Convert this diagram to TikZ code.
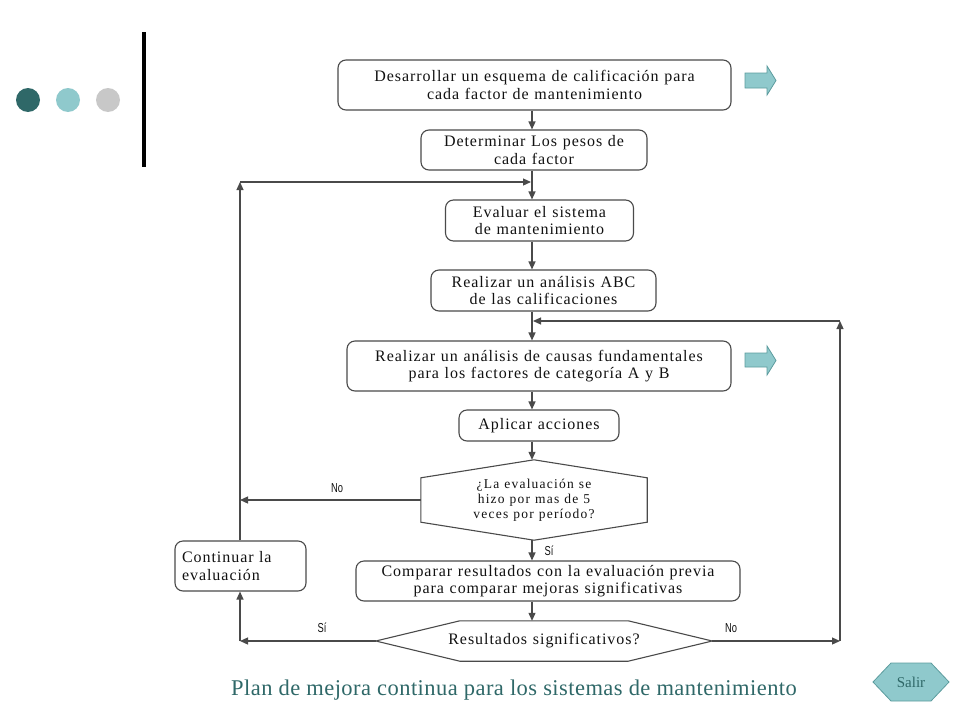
\documentclass[tikz,border=0pt]{standalone}
\usepackage{fontspec}
\usepackage{graphicx}
\setmainfont{Liberation Serif}
\newfontfamily\boxfont[LetterSpace=6,WordSpace=1.15]{Liberation Serif}
\newfontfamily\hexfont[LetterSpace=9,WordSpace=1.1]{Liberation Serif}
\newfontfamily\titlefont[LetterSpace=2]{Liberation Serif}
\newfontfamily\labfont{Liberation Sans}
\usetikzlibrary{arrows.meta,shapes.geometric}
\definecolor{tealdark}{HTML}{2F6868}
\definecolor{teallight}{HTML}{8FC9CC}
\definecolor{dotgray}{HTML}{C8C8C8}
\definecolor{tealborder}{HTML}{5C9C9E}
\definecolor{linegray}{HTML}{4A4A4A}
\definecolor{textdark}{HTML}{111111}
\tikzset{
  boxstyle/.style={draw=linegray, line width=1.1pt, rounded corners=8pt, align=center,
    inner sep=0pt, text=textdark, font=\boxfont\fontsize{16}{17.5}\selectfont},
  hexnode/.style={inner sep=0pt, align=center, text=textdark},
  hexline/.style={draw=linegray, line width=1.1pt},
  arr/.style={draw=linegray, line width=1.2pt, -{Triangle[length=8pt,width=7pt]}},
  lab/.style={inner sep=0pt, text=textdark, font=\labfont\fontsize{13}{13}\selectfont},
  tealarrow/.style={fill=teallight, draw=tealborder, line width=0.8pt},
}
\newcommand{\narrow}[1]{\scalebox{0.72}[1]{#1}}
\begin{document}
\begin{tikzpicture}[x=1pt,y=-1pt]
\useasboundingbox (0,0) rectangle (960,720);
% decoration
\fill[tealdark] (28,100) circle (12);
\fill[teallight] (68,100) circle (12);
\fill[dotgray] (108,100) circle (12);
\fill[black] (142,32) rectangle (146,167);

\coordinate (cx) at (532,0);
% boxes
\node[boxstyle, minimum width=393pt, minimum height=50pt] (b1) at (534.5,85)
  {Desarrollar un esquema de calificación para\\cada factor de mantenimiento};
\node[boxstyle, minimum width=226pt, minimum height=40pt] (b2) at (534,150)
  {Determinar Los pesos de\\cada factor};
\node[boxstyle, minimum width=188pt, minimum height=41pt] (b3) at (539.5,220.5)
  {Evaluar el sistema\\de mantenimiento};
\node[boxstyle, minimum width=225pt, minimum height=41pt] (b4) at (543.5,290.5)
  {Realizar un análisis ABC\\de las calificaciones};
\node[boxstyle, minimum width=384pt, minimum height=50pt] (b5) at (539,366)
  {Realizar un análisis de causas fundamentales\\para los factores de categoría A y B};
\node[boxstyle, minimum width=160pt, minimum height=31pt] (b6) at (539,425.5)
  {Aplicar acciones};
% decision 1
\node[hexnode, minimum width=226pt, minimum height=80pt, font=\hexfont\fontsize{13.5}{15}\selectfont] (h1) at (534,500)
  {¿La evaluación se\\hizo por mas de 5\\veces por período?};
\draw[hexline] (h1.north) -- ([yshift=-18pt]h1.north east) -- ([yshift=18pt]h1.south east)
  -- (h1.south) -- ([yshift=18pt]h1.south west) -- ([yshift=-18pt]h1.north west) -- cycle;
\node[boxstyle, minimum width=384pt, minimum height=40pt] (b7) at (548,581)
  {Comparar resultados con la evaluación previa\\para comparar mejoras significativas};
% decision 2
\node[hexnode, minimum width=336pt, minimum height=40pt, font=\boxfont\fontsize{16}{17}\selectfont] (h2) at (544,641)
  {Resultados significativos?};
\draw[hexline] (h2.west) -- ([xshift=84pt]h2.north west) -- ([xshift=-84pt]h2.north east)
  -- (h2.east) -- ([xshift=-84pt]h2.south east) -- ([xshift=84pt]h2.south west) -- cycle;
% continuar
\node[boxstyle, minimum width=131pt, minimum height=50pt, align=left, text width=117pt] (cont) at (240.5,566)
  {Continuar la\\evaluación};

% main flow
\coordinate (jL) at (532,182);
\coordinate (jR) at (532,321);
\draw[arr] (b1.south -| cx) -- (b2.north -| cx);
\draw[arr] (b2.south -| cx) -- (b3.north -| cx);
\draw[arr] (b3.south -| cx) -- (b4.north -| cx);
\draw[arr] (b4.south -| cx) -- (b5.north -| cx);
\draw[arr] (b5.south -| cx) -- (b6.north -| cx);
\draw[arr] (b6.south -| cx) -- (h1.north -| cx);
\draw[arr] (h1.south -| cx) -- (b7.north -| cx);
\draw[arr] (b7.south -| cx) -- (h2.north -| cx);

% left loop
\coordinate (L1) at (240,500);
\coordinate (L2) at (240,641);
\coordinate (Ltop) at (240,182);
\draw[arr] (h1.west) -- (L1);
\draw[arr] (h2.west) -- (L2);
\draw[arr] (L2) -- (cont.south -| L2);
\draw[arr] (cont.north -| Ltop) -- (Ltop);
\draw[arr] (Ltop) -- ([xshift=-1pt]jL);

% right loop
\coordinate (R1) at (840,641);
\coordinate (Rtop) at (840,321);
\draw[arr] (h2.east) -- (R1);
\draw[arr] (R1) -- (Rtop);
\draw[arr] (Rtop) -- ([xshift=1pt]jR);

% labels
\node[lab] (lno1) at (337,488) {\narrow{No}};
\node[lab] (lsi1) at (549,551) {\narrow{Sí}};
\node[lab] (lsi2) at (322,628) {\narrow{Sí}};
\node[lab] (lno2) at (731,628) {\narrow{No}};

% teal block arrows
\draw[tealarrow] (745,73) -- (767,73) -- (767,66) -- (776,80.5) -- (767,95) -- (767,88) -- (745,88) -- cycle;
\draw[tealarrow] (745,353) -- (767,353) -- (767,346) -- (776,360.5) -- (767,375) -- (767,367) -- (745,367) -- cycle;

% salir
\coordinate (salir) at (911,682);
\fill[teallight] (873,682) -- (891,663) -- (931,663) -- (949,682) -- (931,701) -- (891,701) -- cycle;
\draw[tealborder, line width=0.8pt] (873,682) -- (891,663) -- (931,663) -- (949,682) -- (931,701) -- (891,701) -- cycle;
\node[inner sep=0pt, text=tealdark, font=\fontsize{15}{15}\selectfont] (salirtext) at (salir) {Salir};

% title
\node[inner sep=0pt, text=tealdark, font=\titlefont\fontsize{22.5}{24}\selectfont] (title) at (514,690)
  {Plan de mejora continua para los sistemas de mantenimiento};
\end{tikzpicture}
\end{document}
